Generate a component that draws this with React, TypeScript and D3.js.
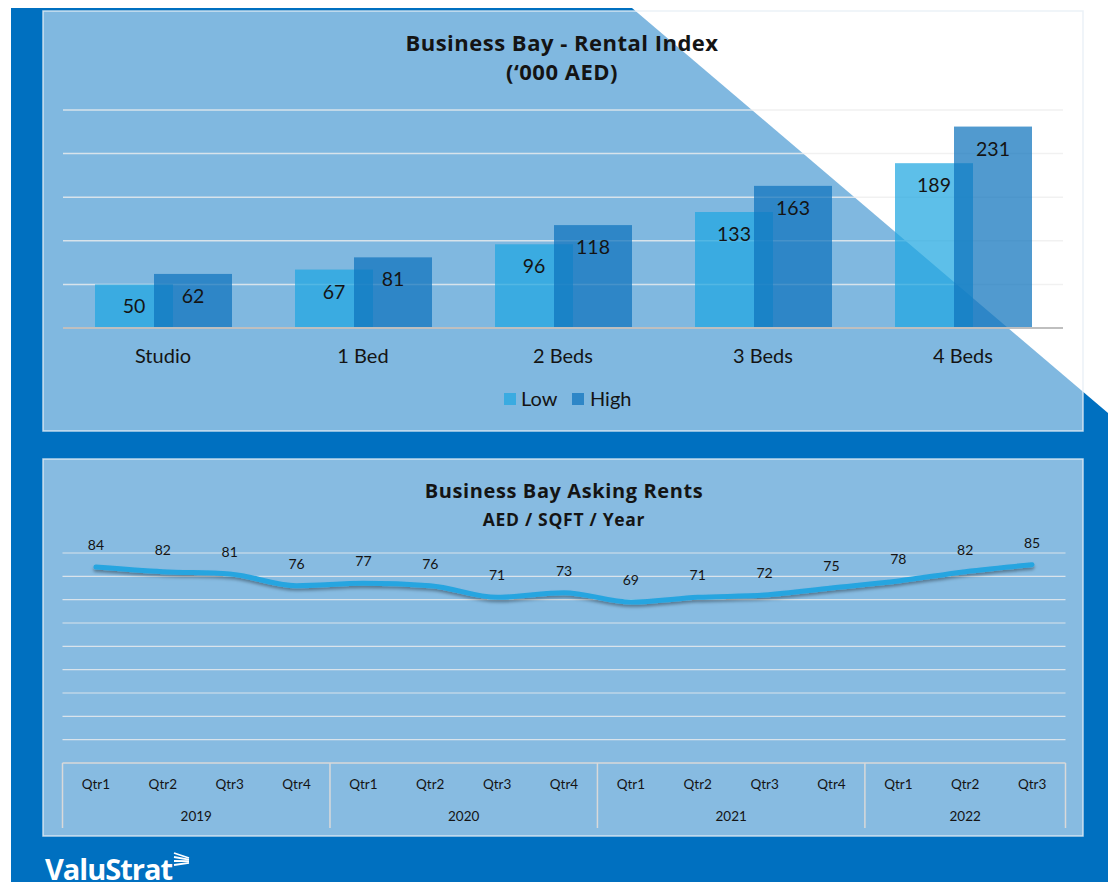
import React from 'react';
import * as d3 from 'd3';

const bedCategories = ['Studio', '1 Bed', '2 Beds', '3 Beds', '4 Beds'];
const lowRents = [50, 67, 96, 133, 189];
const highRents = [62, 81, 118, 163, 231];
const barSeries = ['Low', 'High'];
const barTicks = [50, 100, 150, 200, 250];

const quarterLabels = ['Qtr1', 'Qtr2', 'Qtr3', 'Qtr4', 'Qtr1', 'Qtr2', 'Qtr3', 'Qtr4', 'Qtr1', 'Qtr2', 'Qtr3', 'Qtr4', 'Qtr1', 'Qtr2', 'Qtr3'];
const yearLabels = ['2019', '2020', '2021', '2022'];
const quartersPerYear = [4, 4, 4, 3];
const askingRents = [84, 82, 81, 76, 77, 76, 71, 73, 69, 71, 72, 75, 78, 82, 85];
const lineTicks = [10, 20, 30, 40, 50, 60, 70, 80, 90];

const W = 1108;
const H = 882;
const FONT = 'Lato, "Open Sans", sans-serif';
const TITLE_FONT = '"Open Sans", Lato, sans-serif';
const DARK = '#0070C0';
const TEXT = '#141414';

export default function App() {
  // Bar chart scales
  const xBand = d3.scaleBand<string>().domain(bedCategories).range([63, 1063]);
  const yBar = d3.scaleLinear().domain([0, 250]).range([328, 110]);
  const xSeries = d3.scalePoint<string>().domain(barSeries).range([-29, 30]);
  const barW = 78;
  const barColors: Record<string, string> = { Low: '#1FA6E0', High: '#0E73BC' };
  const seriesValues: Record<string, number[]> = { Low: lowRents, High: highRents };

  // Line chart scales
  const idx = d3.range(askingRents.length).map(String);
  const xQ = d3.scaleBand<string>().domain(idx).range([62.5, 1065.5]);
  const yL = d3.scaleLinear().domain([0, 90]).range([763, 553]);
  const line = d3
    .line<number>()
    .x((_, i) => (xQ(String(i)) as number) + xQ.bandwidth() / 2)
    .y((d) => yL(d))
    .curve(d3.curveMonotoneX);

  const yearStarts: number[] = [];
  let acc = 0;
  quartersPerYear.forEach((n) => {
    yearStarts.push(acc);
    acc += n;
  });

  return (
    <svg width={W} height={H} style={{ position: 'absolute', left: 0, top: 0 }} fontFamily={FONT}>
      <defs>
        <filter id="shadow" x="-5%" y="-50%" width="110%" height="200%">
          <feDropShadow dx="0" dy="2.5" stdDeviation="1.5" floodColor="#000" floodOpacity="0.35" />
        </filter>
      </defs>
      {/* background */}
      <rect x={0} y={0} width={W} height={H} fill="#fff" />
      <rect x={11} y={8} width={W - 11} height={H - 8} fill={DARK} />
      <polygon points={`632,8 ${W},8 ${W},413`} fill="#fff" />

      {/* top panel */}
      <rect x={43} y={11} width={1040} height={420} fill="#fff" fillOpacity={0.5} stroke="#e6eef5" strokeOpacity={0.8} strokeWidth={1.5} />
      <text x={562} y={51} textAnchor="middle" fontSize={22} fontWeight="bold" fontFamily={TITLE_FONT} fill={TEXT} style={{ letterSpacing: '0.5px' }}>Business Bay - Rental Index</text>
      <text x={562} y={80} textAnchor="middle" fontSize={22} fontWeight="bold" fontFamily={TITLE_FONT} fill={TEXT} style={{ letterSpacing: '0.5px' }}>(‘000 AED)</text>

      {barTicks.map((t) => (
        <line key={t} x1={63} x2={1063} y1={yBar(t)} y2={yBar(t)} stroke="#eeeeee" strokeOpacity={0.8} strokeWidth={1.5} />
      ))}

      {barSeries.map((s) =>
        bedCategories.map((c, i) => {
          const cx = (xBand(c) as number) + xBand.bandwidth() / 2 + (xSeries(s) as number);
          const v = seriesValues[s][i];
          return (
            <rect key={s + c} x={cx - barW / 2} y={yBar(v)} width={barW} height={yBar(0) - yBar(v)} fill={barColors[s]} fillOpacity={0.72} />
          );
        })
      )}
      {barSeries.map((s) =>
        bedCategories.map((c, i) => {
          const cx = (xBand(c) as number) + xBand.bandwidth() / 2 + (xSeries(s) as number);
          const v = seriesValues[s][i];
          return (
            <text key={'l' + s + c} x={cx} y={yBar(v) + 29} textAnchor="middle" fontSize={19.5} fill={TEXT}>{v}</text>
          );
        })
      )}
      <line x1={63} x2={1063} y1={yBar(0)} y2={yBar(0)} stroke="#bfbfbf" strokeWidth={2} />
      {bedCategories.map((c) => (
        <text key={c} x={(xBand(c) as number) + xBand.bandwidth() / 2} y={363} textAnchor="middle" fontSize={20} fill={TEXT}>{c}</text>
      ))}

      {/* legend */}
      <rect x={504} y={393} width={12} height={12} fill={barColors.Low} fillOpacity={0.72} />
      <text x={521} y={406} fontSize={20} fill={TEXT}>Low</text>
      <rect x={572} y={393} width={12} height={12} fill={barColors.High} fillOpacity={0.72} />
      <text x={590} y={406} fontSize={20} fill={TEXT}>High</text>

      {/* bottom panel */}
      <rect x={43} y={459} width={1040} height={377} fill="#fff" fillOpacity={0.53} stroke="#e6eef5" strokeOpacity={0.8} strokeWidth={1.5} />
      <text x={564} y={497.5} textAnchor="middle" fontSize={20} fontWeight="bold" fontFamily={TITLE_FONT} fill={TEXT} style={{ letterSpacing: '0.6px' }}>Business Bay Asking Rents</text>
      <text x={564} y={526} textAnchor="middle" fontSize={17.5} fontWeight="bold" fontFamily={TITLE_FONT} fill={TEXT} style={{ letterSpacing: '0.7px' }}>AED / SQFT / Year</text>

      {lineTicks.map((t) => (
        <line key={t} x1={62.5} x2={1065.5} y1={yL(t)} y2={yL(t)} stroke="#eeeeee" strokeOpacity={0.8} strokeWidth={1.2} />
      ))}

      <path d={line(askingRents) || ''} fill="none" stroke="#27A5E0" strokeWidth={5} strokeLinejoin="round" strokeLinecap="round" filter="url(#shadow)" />
      {askingRents.map((v, i) => (
        <text key={i} x={(xQ(String(i)) as number) + xQ.bandwidth() / 2} y={yL(v) - 17} textAnchor="middle" fontSize={14} fill={TEXT}>{v}</text>
      ))}

      {/* multi-level axis */}
      <line x1={62.5} x2={1065.5} y1={yL(0)} y2={yL(0)} stroke="#d9d9d9" strokeWidth={1.5} />
      {quarterLabels.map((q, i) => (
        <text key={'q' + i} x={(xQ(String(i)) as number) + xQ.bandwidth() / 2} y={789} textAnchor="middle" fontSize={13.5} fill={TEXT}>{q}</text>
      ))}
      {yearStarts.map((s, j) => {
        const x0 = xQ(String(s)) as number;
        const x1 = x0 + quartersPerYear[j] * xQ.bandwidth();
        return (
          <g key={'y' + j}>
            <line x1={x0} x2={x0} y1={yL(0)} y2={828} stroke="#d9d9d9" strokeWidth={1.5} />
            <text x={(x0 + x1) / 2} y={821} textAnchor="middle" fontSize={13.5} fill={TEXT}>{yearLabels[j]}</text>
          </g>
        );
      })}
      <line x1={1065.5} x2={1065.5} y1={yL(0)} y2={828} stroke="#d9d9d9" strokeWidth={1.5} />

      {/* logo */}
      <text x={45} y={880} fontSize={29} fontWeight="bold" fontFamily={TITLE_FONT} fill="#fff" style={{ letterSpacing: '-1px' }}>ValuStrat</text>
      <g stroke="#fff" strokeWidth={1.8} fill="none">
        {[0, 1, 2, 3].map((k) => (
          <line key={k} x1={174} y1={853 + k * 4} x2={189} y2={858 + k * 1.6} />
        ))}
      </g>
    </svg>
  );
}
